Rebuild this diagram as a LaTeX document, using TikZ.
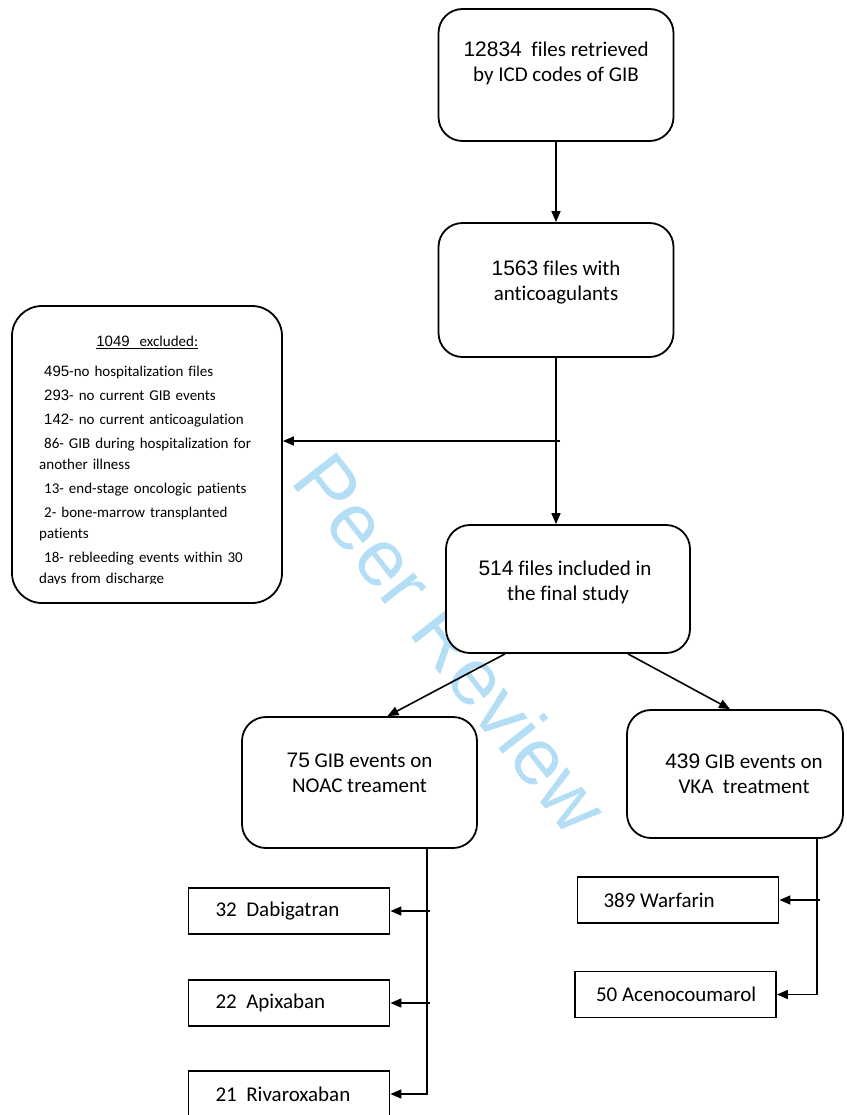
\documentclass[tikz,border=0pt]{standalone}
\usepackage{fontspec}
\setmainfont{Carlito}[Ligatures=NoCommon]
\newfontfamily\numfont{Liberation Sans}
\usetikzlibrary{arrows.meta,calc}
\definecolor{wmark}{RGB}{180,222,245}
\tikzset{
    flowbox/.style={draw, line width=1.8pt, fill=white, rounded corners=24pt, align=center, inner sep=0pt, font=\fontsize{21}{25}\selectfont},
    drugbox/.style={draw, line width=1.8pt, fill=white, minimum width=201pt, minimum height=46pt, inner xsep=0pt, font=\fontsize{21}{25}\selectfont},
    link/.style={line width=1.6pt, -{Triangle[length=11pt,width=9pt]}},
}

\begin{document}
\begin{tikzpicture}[x=1pt, y=-1pt]
        \useasboundingbox (0,0) rectangle (846,1115);
        \clip (0,0) rectangle (846,1115);
        \node[rotate=-52, text=wmark, font=\numfont\fontsize{80}{80}\selectfont] (wm) at (452,643) {Peer Review};
        \node[flowbox, minimum width=235pt, minimum height=132pt, text depth=27pt] (retr) at (556,75) {{\numfont 12834}\ \ files retrieved\\by ICD codes of GIB};
        \node[flowbox, minimum width=235pt, minimum height=134pt, text depth=19pt] (anti) at (556,290) {{\numfont 1563} files with\\anticoagulants};
        \node[flowbox, minimum width=244pt, minimum height=128pt, text depth=17pt] (incl) at (568,589) {\hspace*{-6pt}{\numfont 514} files included in\\the final study};
        \node[flowbox, minimum width=235pt, minimum height=131pt, text depth=20pt] (noac) at (359.5,782.5) {{\numfont 75} GIB events on\\NOAC treament};
        \node[flowbox, minimum width=216pt, minimum height=128pt] (vka) at (735,774) {\hspace*{18pt}{\numfont 439} GIB events on\\\hspace*{18pt}VKA\ \ treatment};
        \node[flowbox, rounded corners=30pt, minimum width=270pt, minimum height=297pt] (excl) at (147,454.5) {};
        \begin{scope}
            \clip (excl.north west) rectangle ([yshift=20pt]excl.south east);
            \node[anchor=north west, text width=214pt, align=left, inner sep=0pt, font=\fontsize{15}{21}\selectfont] (exclist) at (39,336) {%
                \makebox[216pt]{\underline{{\numfont 1049}\ \ excluded:}}\\[9pt]
                \ {\numfont 495}-no hospitalization files\\[3pt]
                \ {\numfont 293}- no current GIB events\\[3pt]
                \ {\numfont 142}- no current anticoagulation\\[3pt]
                \ 86- GIB during hospitalization for\\
                another illness\\[3pt]
                \ 13- end-stage oncologic patients\\[3pt]
                \ 2- bone-marrow transplanted\\
                patients\\[3pt]
                \ 18- rebleeding events within 30\\
                days from discharge};
        \end{scope}
        \foreach \i/\y/\txt in {1/911/32\ \ Dabigatran, 2/1003/22\ \ Apixaban, 3/1094/21\ \ Rivaroxaban}
            \node[drugbox] (D\i) at (289,\y) {\makebox[147pt][l]{\txt}};
        \node[drugbox] (W1) at (678,900) {\makebox[149pt][l]{389 Warfarin}};
        \node[drugbox] (W2) at (675.5,994.5) {\makebox[159pt][l]{50 Acenocoumarol}};
        \draw[link] (retr) -- (anti);
        \draw[link] (anti.south) -- (anti.south |- incl.north);
        \coordinate (br) at (560,441);
        \draw[link] (br) -- (br -| excl.east);
        \draw[link] ([xshift=-63pt]incl.south) -- ([xshift=28pt]noac.north);
        \draw[link] ([xshift=60pt]incl.south) -- ([xshift=-5pt]vka.north);
        \coordinate (nt) at ([xshift=67.5pt]noac.south);
        \draw[link] (nt) -- (nt |- D3.east) -- (D3.east);
        \foreach \i in {1,2}
            \draw[link] ($(nt |- D\i.east)+(3pt,0)$) -- (D\i.east);
        \coordinate (vt) at ([xshift=82pt]vka.south);
        \draw[link] (vt) -- (vt |- W2.east) -- (W2.east);
        \draw[link] ($(vt |- W1.east)+(3pt,0)$) -- (W1.east);
\end{tikzpicture}
\end{document}
